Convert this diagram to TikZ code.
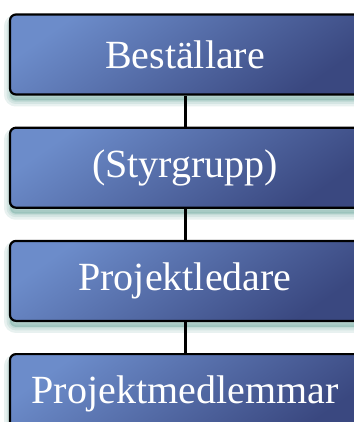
\documentclass[tikz,border=0pt]{standalone}
\usepackage{fontspec}
\setmainfont{Liberation Serif}
\usetikzlibrary{positioning}

\definecolor{boxlight}{RGB}{108,140,202}
\definecolor{boxdark}{RGB}{58,72,128}
\definecolor{shadowteal}{RGB}{80,150,138}

\begin{document}
\begin{tikzpicture}[x=1pt,y=1pt,
  node distance=31pt,
  glow/.style={preaction={draw=shadowteal,fill=shadowteal,line width=#1,
      opacity=.13,transform canvas={yshift=-6pt}}},
  role/.style={rectangle,rounded corners=6pt,draw=black,line width=2.2pt,
    minimum width=350pt,minimum height=80pt,inner sep=0pt,
    glow=12pt,glow=7pt,glow=3pt,
    top color=boxlight,bottom color=boxdark,shading angle=35,
    text=white,font=\fontsize{40}{44}\selectfont},
  link/.style={draw=black,line width=3pt}
  ]
  \useasboundingbox (0,0) rectangle (353,-422);

  \node[role] (orderer) at (185,-54.5) {Beställare};
  \node[role,below=of orderer] (steering) {(Styrgrupp)};
  \node[role,below=of steering] (leader) {Projektledare};
  \node[role,below=of leader] (members) {Projektmedlemmar};

  \draw[link] (orderer) -- (steering);
  \draw[link] (steering) -- (leader);
  \draw[link] (leader) -- (members);
\end{tikzpicture}
\end{document}
